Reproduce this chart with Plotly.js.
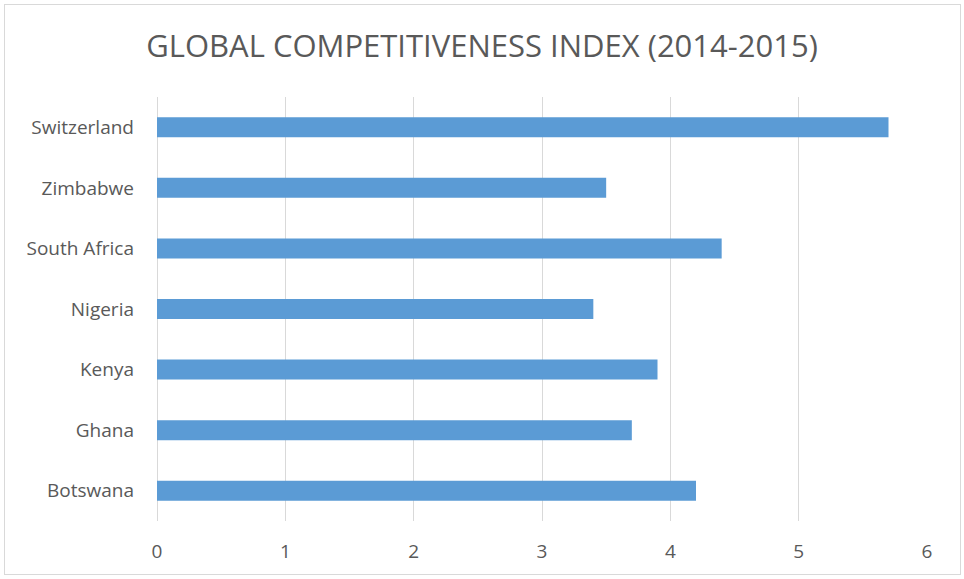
<!DOCTYPE html>
<html>
<head>
<meta charset="utf-8">
<script src="https://cdn.plot.ly/plotly-3.0.1.min.js"></script>
<style>
html,body{margin:0;padding:0;background:#fff;}
#frame{position:absolute;left:4px;top:4px;width:957px;height:571px;border:1px solid #d9d9d9;box-sizing:border-box;}
#chart{position:absolute;left:0;top:0;width:964px;height:579px;}
</style>
</head>
<body>
<div id="frame"></div>
<div id="chart"></div>
<script>
const countries = ["Botswana","Ghana","Kenya","Nigeria","South Africa","Zimbabwe","Switzerland"];
const scores = [4.2, 3.7, 3.9, 3.4, 4.4, 3.5, 5.7];
const xTicks = [0,1,2,3,4,5,6];
const chartTitle = "GLOBAL COMPETITIVENESS INDEX (2014-2015)";

const fontFam = "'Open Sans', sans-serif";

Plotly.newPlot('chart', [{
  type: 'bar',
  orientation: 'h',
  y: countries,
  x: scores,
  marker: {color: '#5b9bd5'},
  hoverinfo: 'x+y'
}], {
  width: 964, height: 579,
  paper_bgcolor: 'rgba(0,0,0,0)',
  plot_bgcolor: 'rgba(0,0,0,0)',
  margin: {l: 157, r: 37, t: 97, b: 58},
  bargap: 0.67,
  title: {text: chartTitle, x: 0.5, xref: 'container', xanchor: 'center',
          y: 0.921, yref: 'container', yanchor: 'middle',
          font: {family: fontFam, size: 31, color: '#595959'}},
  xaxis: {range: [0, 6], tickvals: xTicks, showgrid: true, gridcolor: '#d9d9d9',
          gridwidth: 1, zeroline: true, zerolinecolor: '#d9d9d9', showline: false,
          ticklabelstandoff: 17, fixedrange: true,
          tickfont: {family: fontFam, size: 19, color: '#595959'}},
  yaxis: {categoryorder: 'array', categoryarray: countries, showgrid: false,
          showline: false, zeroline: false, ticklabelstandoff: 22,
          tickfont: {family: fontFam, size: 19, color: '#595959'}, fixedrange: true},
  showlegend: false
}, {displayModeBar: false, staticPlot: true});
</script>
</body>
</html>
